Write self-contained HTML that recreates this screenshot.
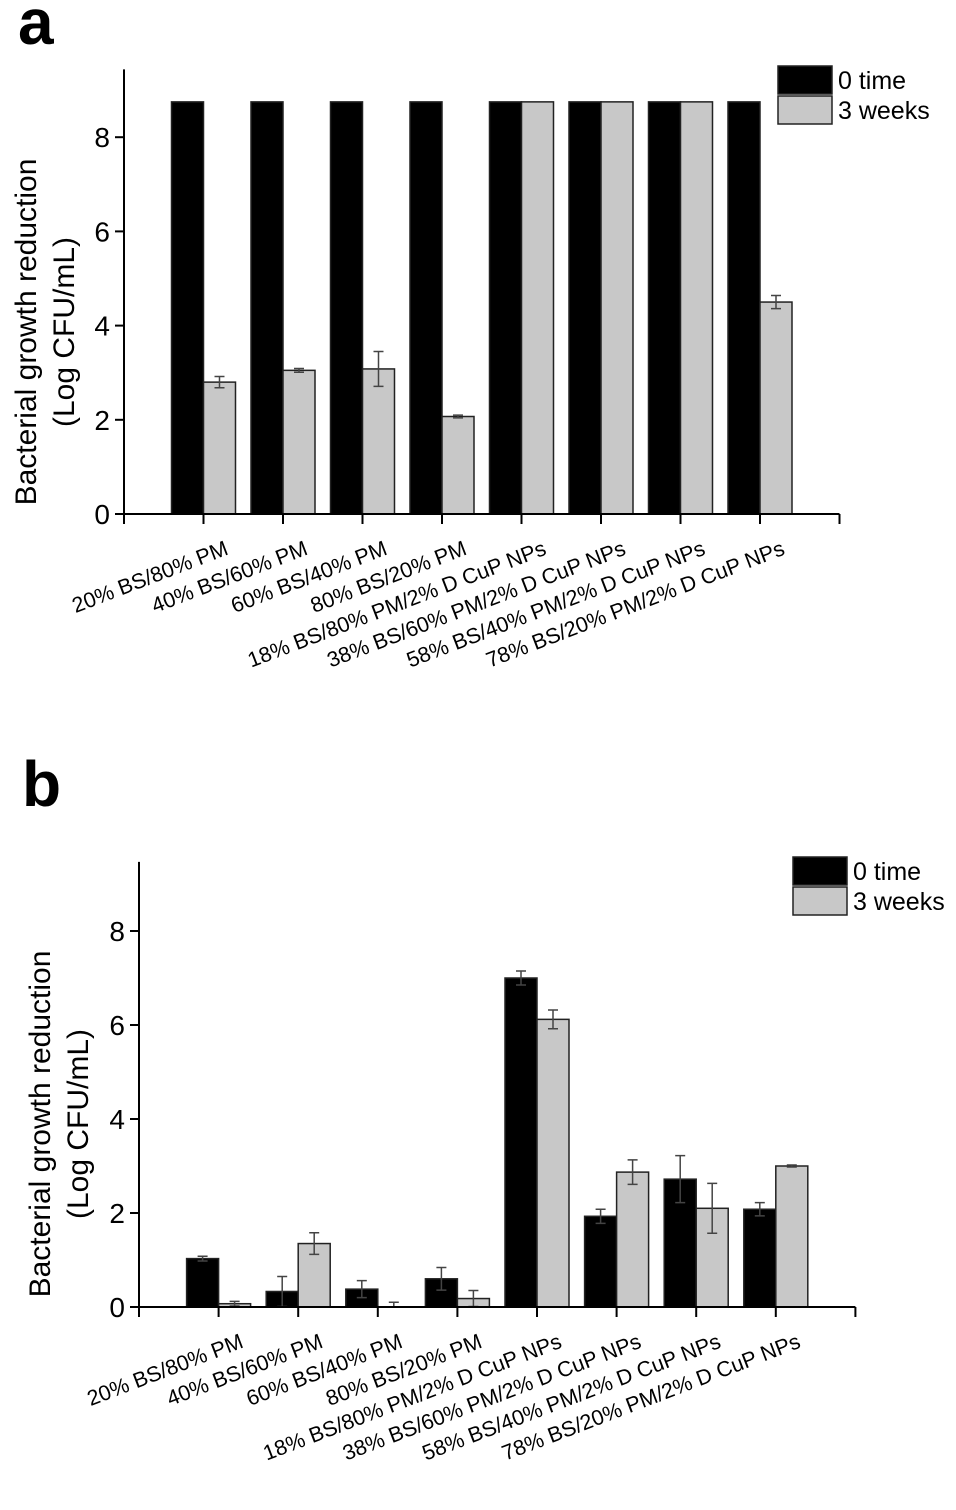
<!DOCTYPE html>
<html><head><meta charset="utf-8"><style>
body{margin:0;background:#fff;}
svg{display:block;font-family:"Liberation Sans",Arial,sans-serif;}
</style></head><body>
<svg id="chart" width="956" height="1510" viewBox="0 0 956 1510">
<text x="18" y="44" font-size="64" font-weight="bold">a</text>
<text x="22" y="806" font-size="64" font-weight="bold">b</text>
<g id="pa"></g>
<g id="pb"></g>
</svg>
<script>
const categories = ["20% BS/80% PM","40% BS/60% PM","60% BS/40% PM","80% BS/20% PM","18% BS/80% PM/2% D CuP NPs","38% BS/60% PM/2% D CuP NPs","58% BS/40% PM/2% D CuP NPs","78% BS/20% PM/2% D CuP NPs"];
const yTicks = [0,2,4,6,8];
const aZero = [8.75,8.75,8.75,8.75,8.75,8.75,8.75,8.75];
const aZeroErr = [0,0,0,0,0,0,0,0];
const aWeeks = [2.8,3.05,3.08,2.07,8.75,8.75,8.75,4.5];
const aWeeksErr = [0.12,0.04,0.37,0.03,0,0,0,0.14];
const bZero = [1.03,0.33,0.38,0.6,7.0,1.93,2.72,2.08];
const bZeroErr = [0.05,0.32,0.18,0.24,0.15,0.15,0.5,0.14];
const bWeeks = [0.07,1.35,0,0.18,6.12,2.87,2.1,3.0];
const bWeeksErr = [0.05,0.23,0.1,0.17,0.2,0.26,0.53,0.02];
const NS="http://www.w3.org/2000/svg";
function mk(p,tag,attrs,txt){const e=document.createElementNS(NS,tag);for(const k in attrs)e.setAttribute(k,attrs[k]);if(txt!==undefined)e.textContent=txt;p.appendChild(e);return e;}
function draw(g,cfg){
  const x0=cfg.x0, y0=cfg.y0, unit=cfg.unit, step=cfg.step, ymax=cfg.ymax;
  const X=i=>x0+step*(i+1);
  const Y=v=>y0-v*unit;
  const cy=cfg.tcy;
  const t=mk(g,"text",{x:cfg.tx1,y:cy,"font-size":30,"text-anchor":"middle",transform:`rotate(-90 ${cfg.tx1} ${cy})`},"Bacterial growth reduction");
  
  
  const t2=mk(g,"text",{x:cfg.tx2,y:cy,"font-size":30,"text-anchor":"middle",transform:`rotate(-90 ${cfg.tx2} ${cy})`},"(Log CFU/mL)");
  
  
  const bw=32;
  for(let i=0;i<categories.length;i++){
    const xc=X(i);
    const b1=mk(g,"rect",{x:xc-bw,y:Y(cfg.zero[i]),width:bw,height:cfg.zero[i]*unit,fill:"#000",stroke:"#222","stroke-width":1.5});
    
    
    const b2=mk(g,"rect",{x:xc,y:Y(cfg.weeks[i]),width:bw,height:cfg.weeks[i]*unit,fill:"#c8c8c8",stroke:"#222","stroke-width":1.5});
    
    
    [[xc-bw/2,cfg.zero[i],cfg.zeroErr[i]],[xc+bw/2,cfg.weeks[i],cfg.weeksErr[i]]].forEach(([cx,v,e])=>{
      if(e<=0)return;
      const lo=Math.max(0,v-e);
      const eb=mk(g,"path",{d:`M${cx},${Y(v+e)}V${Y(lo)}M${cx-5},${Y(v+e)}H${cx+5}M${cx-5},${Y(lo)}H${cx+5}`,stroke:"#444","stroke-width":1.5,fill:"none"});
      
      
    });
    const lb=mk(g,"text",{x:xc+26,y:y0+40,"font-size":21.5,"text-anchor":"end",transform:`rotate(-21 ${xc+26} ${y0+40})`},categories[i]);
    
    
  }
  const ax=mk(g,"path",{d:`M${x0},${Y(ymax)}V${y0}H${X(8)}`,stroke:"#000","stroke-width":2,fill:"none"});
  
  
  for(let i=-1;i<=8;i++){
    const tk=mk(g,"line",{x1:X(i),x2:X(i),y1:y0,y2:y0+10,stroke:"#000","stroke-width":2});
    
    
  }
  yTicks.forEach(v=>{
    const tk=mk(g,"line",{x1:x0-9,x2:x0,y1:Y(v),y2:Y(v),stroke:"#000","stroke-width":2});
    
    
    const tl=mk(g,"text",{x:x0-14,y:Y(v)+10,"font-size":28,"text-anchor":"end"},String(v));
    
    
  });
  const L=cfg.leg;
  const l1=mk(g,"rect",{x:L.x,y:L.y,width:54,height:28,fill:"#000",stroke:"#222","stroke-width":1.5});
  
  
  const l2=mk(g,"rect",{x:L.x,y:L.y+30,width:54,height:28,fill:"#c8c8c8",stroke:"#222","stroke-width":1.5});
  
  
  const lt1=mk(g,"text",{x:L.x+60,y:L.y+23,"font-size":25},"0 time");
  
  
  const lt2=mk(g,"text",{x:L.x+60,y:L.y+53,"font-size":25},"3 weeks");
  
  
}
draw(document.getElementById("pa"),{x0:124,y0:514,unit:47.1,step:79.5,ymax:9.44,zero:aZero,zeroErr:aZeroErr,weeks:aWeeks,weeksErr:aWeeksErr,tx1:36,tx2:74,tcy:332,leg:{x:778,y:66}});
draw(document.getElementById("pb"),{x0:139,y0:1307,unit:47,step:79.6,ymax:9.47,zero:bZero,zeroErr:bZeroErr,weeks:bWeeks,weeksErr:bWeeksErr,tx1:50,tx2:88,tcy:1124,leg:{x:793,y:857}});
</script>
</body></html>
